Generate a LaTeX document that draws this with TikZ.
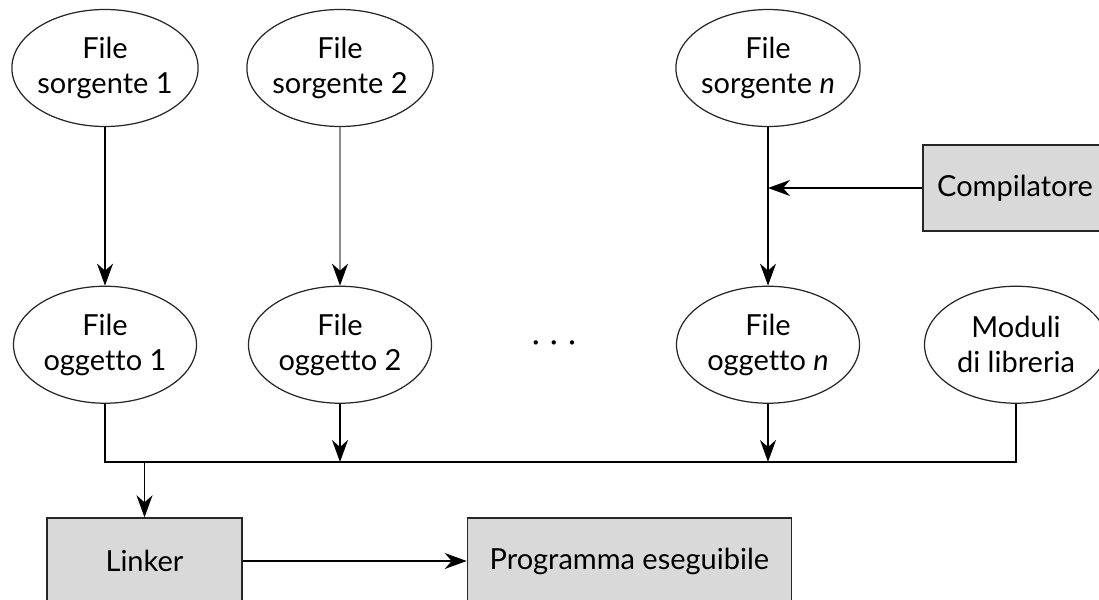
\documentclass[tikz,border=0pt]{standalone}
\usepackage{fontspec}
\setmainfont{Lato}[Ligatures=NoCommon]
\usepackage{tikz}
\usetikzlibrary{positioning,arrows.meta}
\usetikzlibrary{shapes.geometric}
\definecolor{boxgray}{RGB}{217,217,217}

\begin{document}
\begin{tikzpicture}[
    font=\fontsize{16.5}{20}\selectfont,
    % File (ellipse)
    file node/.style={
        draw=black!85,
        ellipse,
        line width=0.7pt,
        inner sep=-1pt,
        minimum width=3.66cm,
        minimum height=2.34cm,
        align=center
    },
    % Tool / result
    tool block/.style={
        draw=black!85,
        fill=boxgray,
        line width=0.8pt,
        minimum height=1.72cm,
        align=center
    },
    % Arrow
    arrow/.style={
        -{Stealth[length=0.44cm,width=0.32cm,inset=0.14cm,color=black]},
        line width=0.8pt
    }
]

\useasboundingbox (0,0) rectangle (21.98,-11.98);

% Source files
\node[file node] (src1) at (2.1,-1.36) {File\\sorgente 1};
\node[file node] (src2) at (6.8,-1.36) {File\\sorgente 2};
\node[file node] (srcn) at (15.36,-1.36) {File\\sorgente \textit{n}};

% Compiler
\node[tool block, minimum width=3.68cm] (compiler) at (20.3,-3.76) {Compilatore};

% Object files
\node[file node, below=3.17cm of src1] (obj1) {File\\oggetto 1};
\node[file node, below=3.17cm of src2] (obj2) {File\\oggetto 2};
\node[file node, below=3.17cm of srcn] (objn) {File\\oggetto \textit{n}};
\node[file node] (lib) at (obj1 -| 20.32,0) {Moduli\\di libreria};
\node (dots) at (11.08,-6.92) {\textperiodcentered\hspace{6pt}\textperiodcentered\hspace{6pt}\textperiodcentered};

% Linker and program
\coordinate (bus) at (0,-9.24);
\node[tool block, minimum width=3.9cm] (linker) at (2.89,-11.22) {Linker};
\node[tool block, minimum width=6.48cm, right=4.48cm of linker] (prog) {Programma eseguibile};

% Compilation
\draw[arrow] (src1) -- (obj1);
\draw[arrow, draw=black!45] (src2) -- (obj2);
\draw[arrow] (srcn) -- (objn);
\draw[arrow] (compiler) -- (compiler.west -| srcn);

% Linking
\draw[line width=0.8pt] (obj1) -- (obj1 |- bus) -- (lib |- bus) -- (lib);
\draw[arrow] (obj2) -- (obj2 |- bus);
\draw[arrow] (objn) -- (objn |- bus);
\draw[arrow] (linker |- bus) -- (linker);
\draw[arrow] (linker) -- (prog);

\end{tikzpicture}
\end{document}
